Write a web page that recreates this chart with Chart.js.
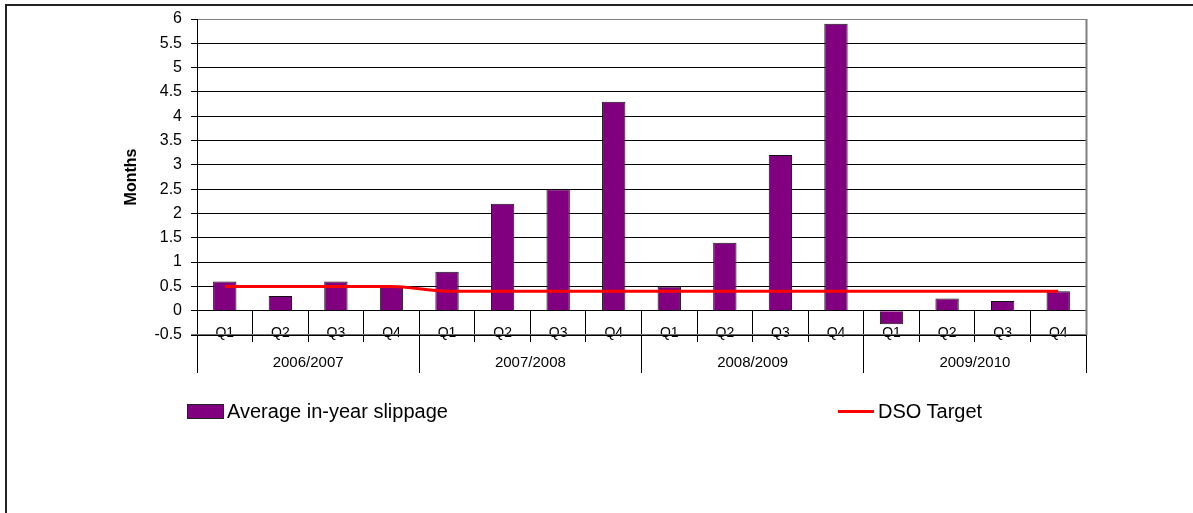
<!DOCTYPE html>
<html>
<head>
<meta charset="utf-8">
<title>Average in-year slippage</title>
<script src="https://cdn.jsdelivr.net/npm/chart.js@4.4.1/dist/chart.umd.min.js"></script>
<style>
	html, body { margin: 0; padding: 0; background: #fff; overflow: hidden; }
	#wrap { position: relative; width: 1193px; height: 513px; overflow: hidden; }
	#frame { position: absolute; left: 5px; top: 4px; width: 1400px; height: 700px;
		border-left: 2px solid #222; border-top: 2px solid #222; pointer-events: none; }
	#chart { position: absolute; left: 0; top: 0; }
	.legend-item { position: absolute; font-family: "Liberation Sans", Arial, sans-serif;
		font-size: 20px; color: #000; line-height: 20px; white-space: nowrap; }
	.legend-box { position: absolute; width: 35px; height: 13px; background: #800080; border: 1px solid #222; }
	.legend-line { position: absolute; width: 36px; height: 3px; background: #ff0000; }
</style>
</head>
<body>
<div id="wrap">
	<canvas id="chart" width="1193" height="513"></canvas>
	<div id="frame"></div>
	<div class="legend-box" style="left:187px; top:404px;"></div>
	<div class="legend-item" style="left:227px; top:401px;">Average in-year slippage</div>
	<div class="legend-line" style="left:838px; top:410px;"></div>
	<div class="legend-item" style="left:878px; top:401px;">DSO Target</div>
</div>
<script>
// 数据：季度、年度、两条序列
const years = ['2006/2007', '2007/2008', '2008/2009', '2009/2010'];
const quarters = ['Q1', 'Q2', 'Q3', 'Q4', 'Q1', 'Q2', 'Q3', 'Q4',
	'Q1', 'Q2', 'Q3', 'Q4', 'Q1', 'Q2', 'Q3', 'Q4'];
const slippage = [0.6, 0.3, 0.6, 0.5, 0.8, 2.2, 2.5, 4.3,
	0.5, 1.4, 3.2, 5.9, -0.28, 0.25, 0.2, 0.4];
const dsoTarget = [0.5, 0.5, 0.5, 0.5, 0.4, 0.4, 0.4, 0.4,
	0.4, 0.4, 0.4, 0.4, 0.4, 0.4, 0.4, 0.4];

Chart.defaults.font.family = '"Liberation Sans", Arial, sans-serif';
Chart.defaults.color = '#000';

// 绘图区边框（灰色）：右边和底边，最后画
const plotBorder = {
	id: 'plotBorder',
	afterDraw(chart) {
		const a = chart.chartArea;
		const y = chart.scales.y.getPixelForValue(-0.5);
		const ctx = chart.ctx;
		ctx.save();
		ctx.strokeStyle = '#808080';
		ctx.lineWidth = 2;
		ctx.beginPath();
		ctx.moveTo(a.right + 0.5, a.top);
		ctx.lineTo(a.right + 0.5, y);
		ctx.stroke();
		ctx.strokeStyle = '#6e6e6e';
		ctx.lineWidth = 1.2;
		ctx.beginPath();
		ctx.moveTo(a.left - 6, Math.round(y) - 0.5);
		ctx.lineTo(a.right, Math.round(y) - 0.5);
		ctx.stroke();
		ctx.restore();
	}
};

const ctx = document.getElementById('chart');
new Chart(ctx, {
	type: 'bar',
	data: {
		labels: quarters,
		datasets: [{
			type: 'line',
			label: 'DSO Target',
			data: dsoTarget,
			borderColor: '#ff0000',
			borderWidth: 3,
			pointRadius: 0,
			cubicInterpolationMode: 'monotone',
			order: 0
		}, {
			label: 'Average in-year slippage',
			data: slippage,
			backgroundColor: '#800080',
			borderColor: '#111',
			borderWidth: 1,
			barPercentage: 0.42,
			categoryPercentage: 1,
			order: 1
		}]
	},
	options: {
		responsive: false,
		animation: false,
		layout: { padding: { top: 19, right: 107, bottom: 0, left: 0 } },
		plugins: {
			legend: { display: false },
			tooltip: { enabled: false }
		},
		scales: {
			x: {
				position: { y: 0 },
				offset: true,
				grid: { offset: true, drawOnChartArea: false, tickLength: 31, color: '#000' },
				border: { color: '#000', width: 1 },
				ticks: { autoSkip: false, maxRotation: 0, padding: -17, font: { size: 14 } }
			},
			x2: {
				type: 'category',
				labels: years,
				position: 'bottom',
				offset: true,
				grid: { offset: true, drawOnChartArea: false, tickLength: 38, color: '#000' },
				border: { display: false },
				ticks: { autoSkip: false, maxRotation: 0, padding: -19, font: { size: 15 } },
				afterFit: function(s) { s.height = 178; }
			},
			y: {
				min: -0.5,
				max: 6,
				ticks: {
					stepSize: 0.5,
					padding: 9,
					font: { size: 16 },
					callback: function(v) { return String(v); }
				},
				grid: {
					color: function(c) {
						return (c.tick && c.tick.value === 6) ? '#808080' : '#000';
					},
					tickColor: '#000',
					tickLength: 6
				},
				border: { color: '#000', width: 1 },
				title: {
					display: true,
					text: 'Months',
					font: { size: 16, weight: 'bold' },
					padding: { top: 122, bottom: 0 }
				},
				afterFit: function(s) { s.width = 197; }
			}
		}
	},
	plugins: [plotBorder]
});
</script>
</body>
</html>
